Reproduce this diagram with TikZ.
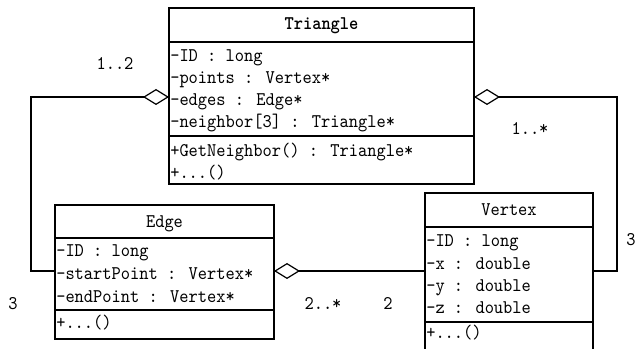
\documentclass[tikz,border=0pt]{standalone}
\usepackage{fontspec}
\usetikzlibrary{arrows.meta,calc}

% slightly narrowed typewriter face for the class compartments
\newfontfamily\umlmono{lmmono10-regular.otf}[FakeStretch=0.91, BoldFont=lmmonolt10-bold.otf]

\tikzset{
  x=0.75pt, y=-0.75pt,
  umlfont/.style={font=\fontsize{14.5}{17}\selectfont\umlmono},
  classbox/.style={draw, line width=1.1pt, inner sep=0pt, outer sep=0pt, anchor=north west},
  divider/.style={line width=1.1pt},
  member/.style={umlfont, anchor=base west, inner sep=0pt},
  classname/.style={umlfont, anchor=base, inner sep=0pt},
  mult/.style={umlfont, anchor=base, inner sep=0pt},
  aggregation/.style={line width=0.8pt, -{Diamond[open, length=19.5pt, width=12pt, line width=0.9pt]}},
}

\begin{document}
\begin{tikzpicture}
\useasboundingbox (0,0) rectangle (636,349);

% ---- class Triangle ----
\node[classbox, minimum width=228.75pt, minimum height=132pt] (tri) at (169,8) {};
\draw[divider] ($(tri.north west)+(0,34)$) -- ($(tri.north east)+(0,34)$);
\draw[divider] ($(tri.north west)+(0,128)$) -- ($(tri.north east)+(0,128)$);
\node[classname, font=\fontsize{14.5}{17}\selectfont\umlmono\bfseries] (tri-name) at (321.5,30) {Triangle};
\foreach \txt [count=\i from 0] in {-ID : long, -points : Vertex*, -edges : Edge*, -neighbor[3] : Triangle*}
  \node[member] (tri-a\i) at (170,62+22*\i) {\txt};
\node[member] (tri-m0) at (170,157) {+GetNeighbor() : Triangle*};
\node[member] (tri-m1) at (170,179) {+...()};

% ---- class Edge ----
\node[classbox, minimum width=164.25pt, minimum height=100.5pt] (edge) at (55,205) {};
\draw[divider] ($(edge.north west)+(0,33)$) -- ($(edge.north east)+(0,33)$);
\draw[divider] ($(edge.north west)+(0,105)$) -- ($(edge.north east)+(0,105)$);
\node[classname] (edge-name) at (164.5,228) {Edge};
\foreach \txt [count=\i from 0] in {-ID : long, -startPoint : Vertex*, -endPoint : Vertex*}
  \node[member] (edge-a\i) at (56,257+22.5*\i) {\txt};
\node[member] (edge-m0) at (56,329) {+...()};

% ---- class Vertex ----
\node[classbox, minimum width=126pt, minimum height=127.5pt] (vtx) at (425,193) {};
\draw[divider] ($(vtx.north west)+(0,34)$) -- ($(vtx.north east)+(0,34)$);
\draw[divider] ($(vtx.north west)+(0,129)$) -- ($(vtx.north east)+(0,129)$);
\node[classname] (vtx-name) at (509,216) {Vertex};
\foreach \txt [count=\i from 0] in {-ID : long, -x : double, -y : double, -z : double}
  \node[member] (vtx-a\i) at (426,247+22.3*\i) {\txt};
\node[member] (vtx-m0) at (426,339) {+...()};

% ---- aggregations ----
\draw[aggregation] ($(edge.north west)+(0,66)$) -- ++(-24,0) |- ($(tri.north west)+(0,89)$);
\draw[aggregation] ($(vtx.north east)+(0,78)$) -- ++(24,0) |- ($(tri.north east)+(0,89)$);
\draw[aggregation] ($(vtx.north west)+(0,78)$) -- ($(edge.north east)+(0,66)$);

% ---- multiplicities ----
\node[mult] (m-tri-edge) at (115,70) {1..2};
\node[mult] (m-tri-vtx) at (530,135) {1..*};
\node[mult] (m-edge-tri) at (13,310) {3};
\node[mult] (m-edge-vtx) at (323,310) {2..*};
\node[mult] (m-vtx-edge) at (388,310) {2};
\node[umlfont, anchor=base west, inner sep=0pt] (m-vtx-tri) at (626,246) {3};
\end{tikzpicture}
\end{document}
